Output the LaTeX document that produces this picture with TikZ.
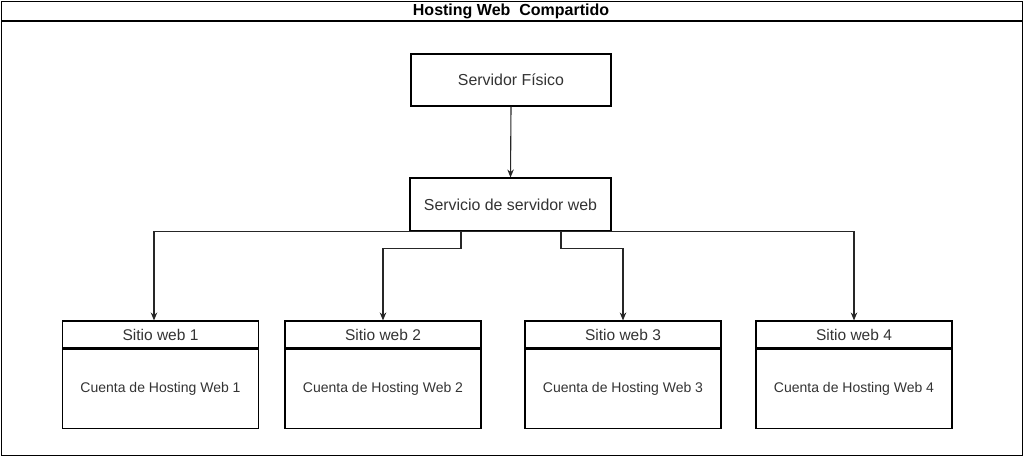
\documentclass[tikz,border=0pt]{standalone}
\usepackage{fontspec}
\setmainfont{Liberation Sans}
\usetikzlibrary{arrows.meta}
\begin{document}
\begin{tikzpicture}[x=1pt,y=-1pt,
  line width=1.1pt,
  box/.style={draw=black,rectangle,inner sep=0pt,font=\fontsize{15.9}{19}\selectfont,text=black!80},
  head/.style={draw=black,rectangle,inner sep=0pt,minimum width=196pt,minimum height=27pt,font=\fontsize{15.5}{18}\selectfont,text=black!80},
  body/.style={draw=black,rectangle,inner sep=0pt,minimum width=196pt,minimum height=79pt,font=\fontsize{14}{17}\selectfont,text=black!80},
  conn/.style={draw=black!85,-{Stealth[length=8pt,width=6.5pt]}}
]
\useasboundingbox (0,0) rectangle (1024,456);
% frame
\node[draw=black,rectangle,inner sep=0pt,minimum width=1021pt,minimum height=454pt,anchor=north west] (frame) at (1,1) {};
\coordinate (tl) at (1,21);
\coordinate (tr) at (1022,21);
\draw (tl) -- (tr);
\node[font=\bfseries\fontsize{16}{19}\selectfont] (title) at (511,11) {Hosting Web\ \ Compartido};
% top boxes
\node[box,minimum width=200pt,minimum height=52pt] (fis) at (511,80) {Servidor Físico};
\node[box,minimum width=201pt,minimum height=53pt] (srv) at (510.5,204.5) {Servicio de servidor web};
% site boxes
\node[head] (h1) at (160.5,334.5) {Sitio web 1};
\node[body,anchor=north] (b1) at (h1.south) {Cuenta de Hosting Web 1};
\node[head] (h2) at (383,334.5) {Sitio web 2};
\node[body,anchor=north] (b2) at (h2.south) {Cuenta de Hosting Web 2};
\node[head] (h3) at (623,334.5) {Sitio web 3};
\node[body,anchor=north] (b3) at (h3.south) {Cuenta de Hosting Web 3};
\node[head] (h4) at (854,334.5) {Sitio web 4};
\node[body,anchor=north] (b4) at (h4.south) {Cuenta de Hosting Web 4};
% connectors
\draw[conn] (fis.south) -- (srv.north);
\draw[conn] (srv.south) -| ([xshift=-6.5pt]h1.north);
\draw[conn] ([xshift=-49.5pt]srv.south) -- ++(0,17) -| (h2.north);
\draw[conn] ([xshift=50.5pt]srv.south) -- ++(0,17) -| (h3.north);
\draw[conn] (srv.south) -| (h4.north);
\end{tikzpicture}
\end{document}
